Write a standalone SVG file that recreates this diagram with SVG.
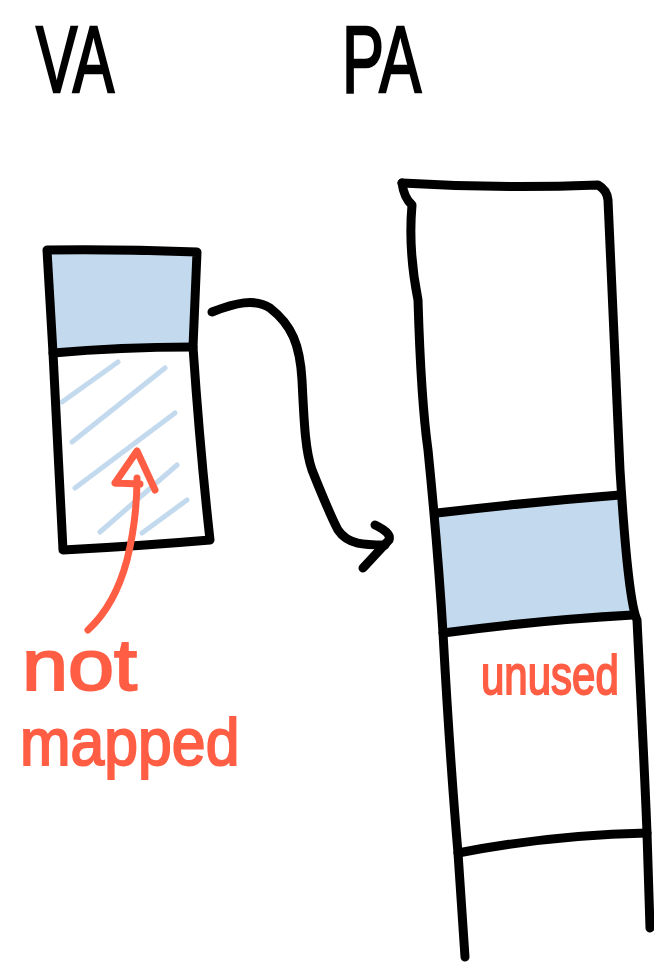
<svg xmlns="http://www.w3.org/2000/svg" width="654" height="965" viewBox="0 0 654 965">
  <style>
    .ink { fill: none; stroke: #000; stroke-width: 9; stroke-linecap: round; stroke-linejoin: round; }
    .fill { fill: #c3daee; stroke: none; }
    .hatch { fill: none; stroke: #c3daee; stroke-width: 5; stroke-linecap: round; }
    .red { fill: none; stroke: #ff5e44; stroke-width: 7; stroke-linecap: round; stroke-linejoin: round; }
    .title { font-family: "Liberation Sans", Arial, sans-serif; font-size: 94px; fill: #000; stroke: #000; stroke-width: 2.5; }
    .note { font-family: "Liberation Sans", Arial, sans-serif; fill: #ff5e44; stroke: #ff5e44; stroke-width: 2; }
  </style>
  <rect width="654" height="965" fill="#fff"/>

  <g id="va-label">
    <text class="title" transform="translate(36 92) scale(0.66 1)" x="0" y="0">VA</text>
  </g>
  <g id="pa-label">
    <text class="title" transform="translate(342 92) scale(0.67 1)" x="0" y="0">PA</text>
  </g>

  <g id="va-box">
    <path class="fill" d="M47 250 L197 252 L193 347 L53 353 Z"/>
    <path class="hatch" d="M62 402 L118 362 M72 442 L165 368 M75 488 L175 413 M100 532 L177 465 M142 533 L187 500"/>
    <path class="ink" d="M47 250 Q120 249 197 252 Q195 300 193 347 Q200 450 210 540 Q140 546 63 550 Q58 450 53 353 Q50 300 47 250 Z"/>
    <path class="ink" d="M53 353 Q120 347 193 347"/>
  </g>

  <g id="pa-box">
    <path class="fill" d="M437 513 L620 495 L633 615 L443 633 Z"/>
    <path class="ink" d="M402 183 Q500 189 598 185 Q607 190 608 200 Q614 330 620 470 Q628 600 637 620 Q645 780 647 833 L650 928"/>
    <path class="ink" d="M402 183 Q404 198 412 205 Q408 250 418 300 Q421 400 428 450 Q438 550 443 633 Q450 760 458 853 L465 957"/>
    <path class="ink" d="M437 513 Q530 502 620 495"/>
    <path class="ink" d="M443 633 Q540 620 633 615"/>
    <path class="ink" d="M458 853 Q550 835 647 833"/>
  </g>

  <g id="connectors">
    <path class="ink" d="M212 312 C235 303 255 298 270 308 C292 325 300 345 302 380 C304 420 305 450 312 470 C322 495 330 515 338 530 C348 545 365 545 385 545"/>
    <path class="ink" d="M375 525 Q392 533 389 540 L363 568"/>
    <path class="red" d="M88 630 Q115 605 127 560 Q137 520 137 478"/>
    <path class="red" d="M115 483 L137 451 L155 490 M115 483 L140 484"/>
  </g>

  <g id="not-mapped-label">
    <text class="note" transform="translate(22 690) scale(1.15 1)" x="0" y="0" font-size="72">not</text>
    <text class="note" transform="translate(20 765) scale(0.92 1)" x="0" y="0" font-size="66">mapped</text>
  </g>

  <g id="unused-label">
    <text class="note" transform="translate(481 694) scale(0.75 1)" x="0" y="0" font-size="56">unused</text>
  </g>
</svg>
